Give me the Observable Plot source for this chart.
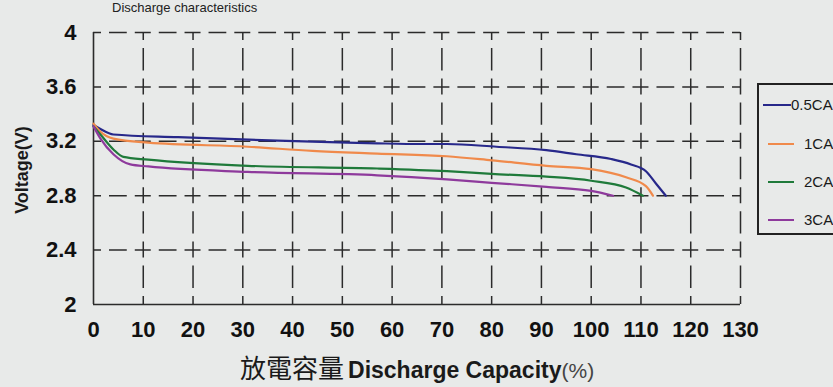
<!DOCTYPE html>
<html>
<head>
<meta charset="utf-8">
<script src="https://cdn.jsdelivr.net/npm/d3@7"></script>
<script src="https://cdn.jsdelivr.net/npm/@observablehq/plot@0.6"></script>
<style>
  html, body { margin: 0; padding: 0; }
  body { width: 833px; height: 387px; overflow: hidden; position: relative; background: #e8eae9; }
  #chart { position: absolute; left: 0; top: 0; }
  .sans { font-family: 'Liberation Sans', Arial, sans-serif; }
  #title { position: absolute; left: 112px; top: 1px; font-size: 13px; color: #222; white-space: nowrap; line-height: 1; }
  #ylab { position: absolute; left: 22px; top: 170px; transform: translate(-50%, -50%) rotate(-90deg); font-size: 18px; font-weight: bold; color: #1a1a1a; white-space: nowrap; line-height: 1; }
  #xlab { position: absolute; left: 240px; top: 354px; white-space: nowrap; color: #1a1a1a; line-height: 1; height: 28px; }
  #xlab .cjk { font-family: 'Noto Sans CJK TC', 'Noto Sans CJK SC', sans-serif; font-size: 26px; line-height: 1; }
  #xlab .en { font-size: 23px; font-weight: bold; }
  #xlab .pc { font-size: 21px; font-weight: normal; color: #444; }
  #legend { position: absolute; left: 757px; top: 83px; width: 100px; height: 152px; border: 2px solid #222; box-sizing: border-box; }
  .item { position: absolute; left: 0; height: 20px; width: 100px; }
  .sw { position: absolute; top: 9px; height: 2.2px; }
  .lt { position: absolute; top: 0; font-size: 15px; color: #1a1a1a; line-height: 20px; }
</style>
</head>
<body>
<div id="chart"></div>
<div id="title" class="sans">Discharge characteristics</div>
<div id="ylab" class="sans">Voltage(V)</div>
<div id="xlab"><span class="cjk">放電容量</span> <span class="en sans">Discharge Capacity</span><span class="pc sans">(%)</span></div>
<div id="legend"></div>
<script>
// ---- data ----
const seriesNames = ["0.5CA", "1CA", "2CA", "3CA"];
const seriesColors = ["#27288a", "#f08a4b", "#1f7a3a", "#8e3a9c"];

const cap05 = [0, 1.4, 4, 17, 37, 51, 57, 66, 71, 81, 91, 97, 104, 108, 111, 113, 115];
const volt05 = [3.32, 3.29, 3.25, 3.23, 3.205, 3.19, 3.185, 3.18, 3.18, 3.16, 3.135, 3.105, 3.07, 3.03, 2.98, 2.89, 2.80];

const cap1 = [0, 1.4, 4, 11, 31, 44, 57, 71, 80, 91, 100, 107, 111, 112.4];
const volt1 = [3.33, 3.27, 3.22, 3.19, 3.16, 3.13, 3.11, 3.09, 3.06, 3.02, 2.995, 2.935, 2.87, 2.80];

const cap2 = [0, 1.4, 4, 6, 11, 31, 57, 71, 80, 91, 100, 107, 110.4];
const volt2 = [3.31, 3.25, 3.14, 3.085, 3.065, 3.02, 3.0, 2.98, 2.96, 2.94, 2.91, 2.86, 2.80];

const cap3 = [0, 1.4, 4, 7.4, 11, 31, 57, 71, 80, 91, 100, 104.4];
const volt3 = [3.31, 3.22, 3.105, 3.03, 3.015, 2.975, 2.95, 2.92, 2.895, 2.865, 2.835, 2.80];

const xTicks = [0, 10, 20, 30, 40, 50, 60, 70, 80, 90, 100, 110, 120, 130];
const yTicks = [2, 2.4, 2.8, 3.2, 3.6, 4];

// ---- build table ----
const caps = [cap05, cap1, cap2, cap3];
const volts = [volt05, volt1, volt2, volt3];
const rows = [];
seriesNames.forEach((name, i) => {
  caps[i].forEach((c, j) => rows.push({series: name, cap: c, v: volts[i][j]}));
});

const SANS = "'Liberation Sans', Arial, sans-serif";
const gridColor = "#2b2b2b";

const chart = Plot.plot({
  width: 833,
  height: 387,
  marginLeft: 93,
  marginRight: 93,
  marginTop: 32,
  marginBottom: 83,
  style: {background: "transparent", fontFamily: SANS, color: "#111"},
  x: {domain: [0, 130]},
  y: {domain: [2, 4]},
  color: {domain: seriesNames, range: seriesColors},
  marks: [
    Plot.gridY({ticks: yTicks.filter(d => d > 2), stroke: gridColor, strokeOpacity: 1, strokeWidth: 1.5,
      strokeDasharray: "16,8,17.77,8", strokeDashoffset: 8}),
    Plot.gridX({ticks: xTicks.filter(d => d > 0), stroke: gridColor, strokeOpacity: 1, strokeWidth: 1.5,
      strokeDasharray: "16,8,22.4,8", strokeDashoffset: 8}),
    Plot.ruleX([0], {stroke: gridColor, strokeWidth: 1.6}),
    Plot.ruleY([2], {stroke: gridColor, strokeWidth: 1.6}),
    Plot.line(rows, {x: "cap", y: "v", z: "series", stroke: "series", strokeWidth: 2.2, curve: "monotone-x"}),
    Plot.axisX({ticks: xTicks, tickSize: 0, tickPadding: 17, label: null, fontSize: 22, fontWeight: "bold", fontFamily: SANS, fill: "#111"}),
    Plot.axisY({ticks: yTicks, tickSize: 0, tickPadding: 17, label: null, fontSize: 22, fontWeight: "bold", fontFamily: SANS, fill: "#111",
      tickFormat: d => String(d)})
  ]
});
document.getElementById("chart").append(chart);

// ---- legend ----
const legend = document.getElementById("legend");
const tops = [10, 49, 87, 125];
seriesNames.forEach((name, i) => {
  const it = document.createElement("div");
  it.className = "item";
  it.style.top = tops[i] + "px";
  const sw = document.createElement("div");
  sw.className = "sw";
  sw.style.background = seriesColors[i];
  const first = i === 0;
  sw.style.left = (first ? 4 : 9) + "px";
  sw.style.width = (first ? 28 : 26) + "px";
  const t = document.createElement("div");
  t.className = "lt sans";
  t.style.left = (first ? 32 : 45) + "px";
  t.textContent = name;
  it.append(sw, t);
  legend.append(it);
});
</script>
</body>
</html>
